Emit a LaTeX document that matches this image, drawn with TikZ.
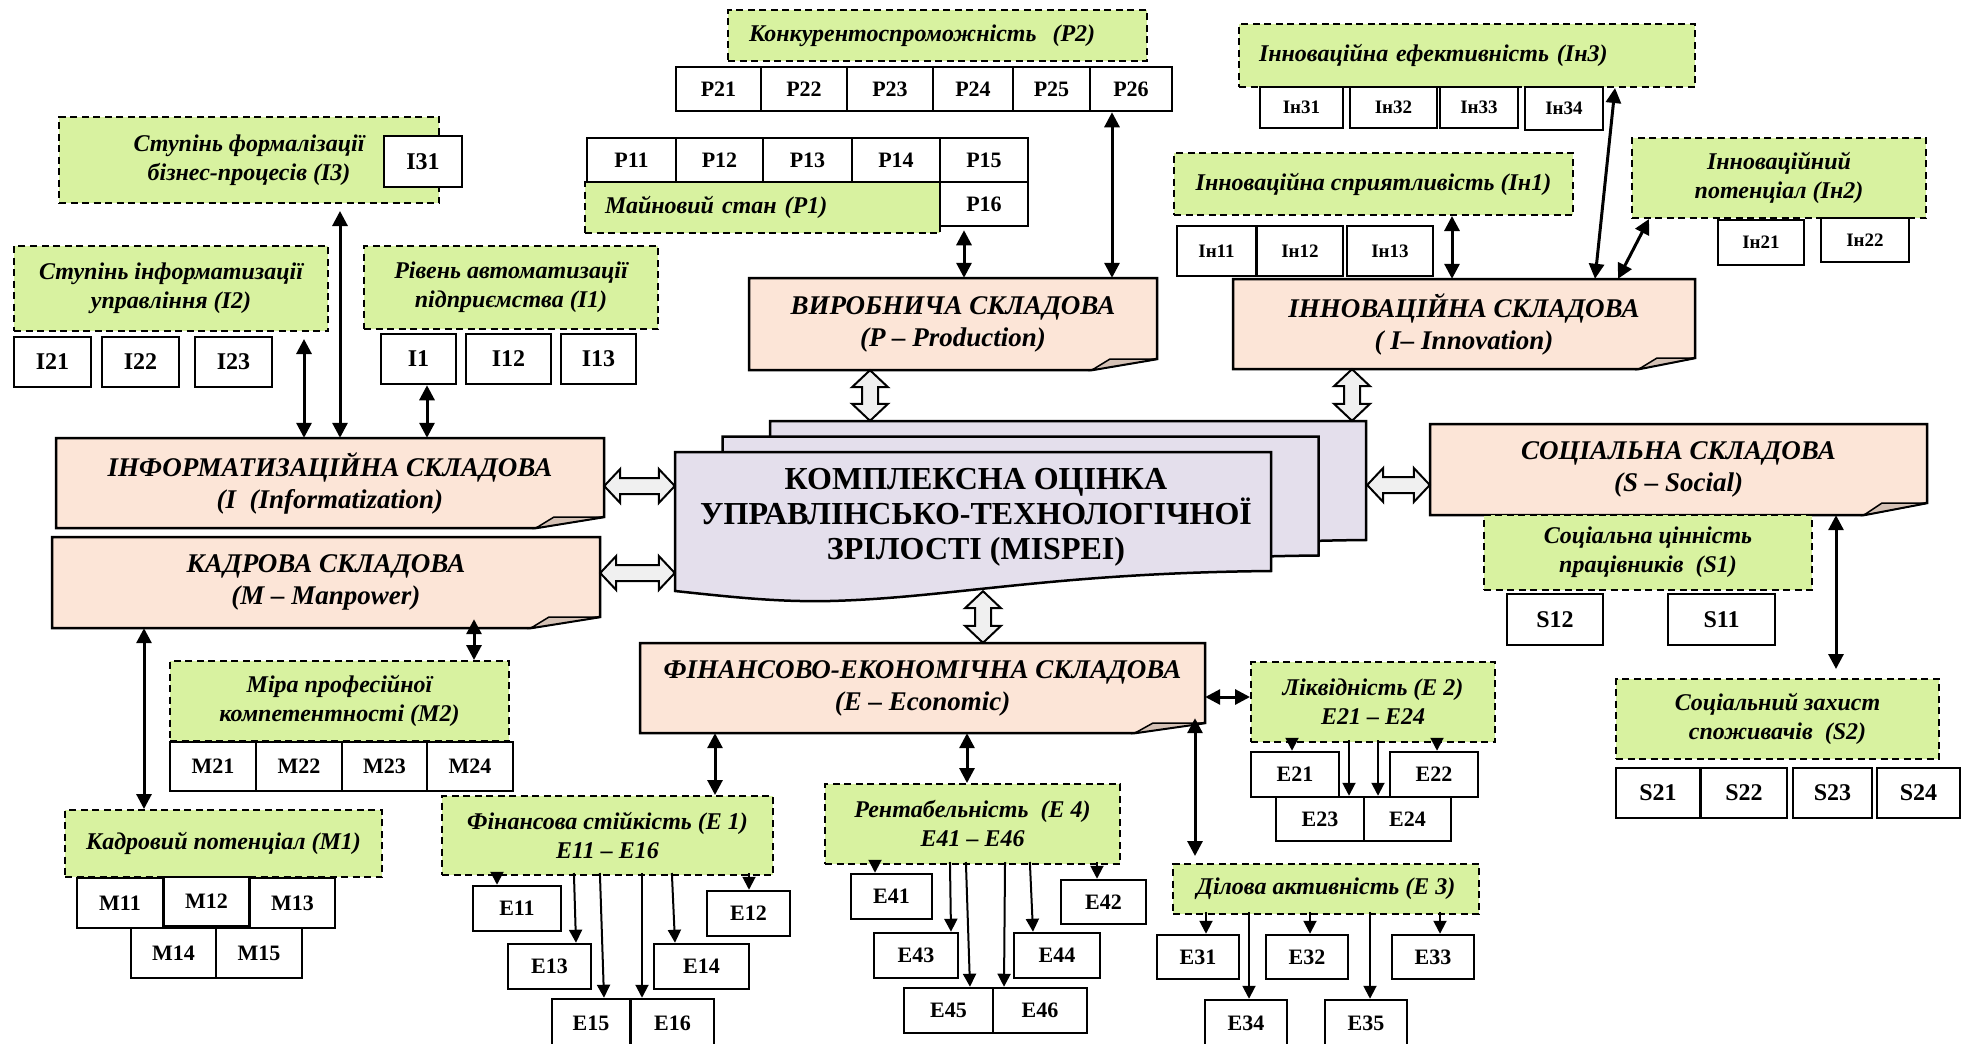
\documentclass[tikz,border=0pt]{standalone}
\usepackage{fontspec}
\setmainfont{Liberation Serif}
\usetikzlibrary{arrows.meta,calc}

\definecolor{pinkfill}{HTML}{FCE5D7}
\definecolor{flapfill}{HTML}{D4C1B5}
\definecolor{greenfill}{HTML}{D8F2A0}
\definecolor{sheetfill}{HTML}{E4DFEC}
\definecolor{hollowfill}{HTML}{F0F0F0}

\newcommand\greenfont{\fontsize{24}{29}\selectfont\bfseries\itshape}
\newcommand\pinkfont{\fontsize{27}{32}\selectfont\bfseries\itshape}
\newcommand\cellfont{\fontsize{22}{24}\selectfont\bfseries}
\newcommand\smallcellfont{\fontsize{19}{22}\selectfont\bfseries}
\newcommand\bigcellfont{\fontsize{24}{26}\selectfont\bfseries}
\newcommand\corefont{\fontsize{32}{35}\selectfont\bfseries}

\tikzset{
  greenbox/.style={draw, line width=2pt, dash pattern=on 7pt off 4.5pt, fill=greenfill,
    inner sep=0pt, align=center, font=\greenfont},
  whitebox/.style={draw, line width=2.5pt, fill=white, inner sep=0pt, font=\cellfont},
  pinkshape/.style={draw, line width=2.5pt, fill=pinkfill},
  flapshape/.style={draw, line width=1.5pt, fill=flapfill},
  pinktext/.style={inner sep=0pt, align=center, font=\pinkfont},
  sheet/.style={draw, line width=2.5pt, fill=sheetfill},
  hollow/.style={draw, line width=2pt, fill=hollowfill, line join=miter},
  dbl/.style={line width=3pt, {Triangle[length=15pt,width=15pt]}-{Triangle[length=15pt,width=15pt]}},
  one/.style={line width=2pt, -{Triangle[length=13pt,width=13pt]}},
}

% green dashed indicator group: [options]{name}{x1}{y1}{x2}{y2}{text}
\newcommand\gbox[7][]{\node[greenbox, minimum width={(#5-#3)*1pt}, minimum height={(#6-#4)*1pt}, #1]
  (#2) at ({(#3+#5)/2},{(#4+#6)/2}) {#7};}
% white indicator cell
\newcommand\wbox[7][]{\node[whitebox, minimum width={(#5-#3)*1pt}, minimum height={(#6-#4)*1pt}, #1]
  (#2) at ({(#3+#5)/2},{(#4+#6)/2}) {#7};}
% component box with a turned-up lower right corner
\newcommand\pinkbox[8]{%
  \path[pinkshape] (#2,#3) -- (#4,#3) -- (#4,#5-#7) -- (#4-#6,#5) -- (#2,#5) -- cycle;
  \path[flapshape] (#4-#6,#5) -- (#4-#6+18,#5-#7) -- (#4,#5-#7) -- cycle;
  \node[pinktext, minimum width={(#4-#2)*1pt}, minimum height={(#5-#3)*1pt}]
    (#1) at ({(#2+#4)/2},{(#3+#5)/2}) {#8};}
% one sheet of the central document stack, shifted right/up
\newcommand\sheetpath[2]{%
  \path[sheet] (675+#1,452-#2) -- (1271+#1,452-#2) -- (1271+#1,571-#2)
    .. controls (1050+#1,573-#2) and (950+#1,598-#2) .. (830+#1,601-#2)
    .. controls (780+#1,602-#2) and (740+#1,598-#2) .. (675+#1,591-#2) -- cycle;}
% hollow two-way arrows
\newcommand\hollowV[2]{%
  \path[hollow] let \p1=#1, \p2=#2 in
    (\x1,\y1) -- (\x1+18pt,\y1-17pt) -- (\x1+8pt,\y1-17pt) -- (\x1+8pt,\y2+17pt)
    -- (\x1+18pt,\y2+17pt) -- (\x1,\y2) -- (\x1-18pt,\y2+17pt) -- (\x1-8pt,\y2+17pt)
    -- (\x1-8pt,\y1-17pt) -- (\x1-18pt,\y1-17pt) -- cycle;}
\newcommand\hollowH[2]{%
  \path[hollow] let \p1=#1, \p2=#2 in
    (\x1,\y1) -- (\x1+16pt,\y1+17pt) -- (\x1+16pt,\y1+8pt) -- (\x2-16pt,\y1+8pt)
    -- (\x2-16pt,\y1+17pt) -- (\x2,\y1) -- (\x2-16pt,\y1-17pt) -- (\x2-16pt,\y1-8pt)
    -- (\x1+16pt,\y1-8pt) -- (\x1+16pt,\y1-17pt) -- cycle;}

\begin{document}
\begin{tikzpicture}[x=1pt,y=-1pt]
\useasboundingbox (0,0) rectangle (1971,1044);

% ---------- central document stack ----------
\sheetpath{95}{31}
\sheetpath{47.5}{15.5}
\sheetpath{0}{0}
\node[inner sep=0pt, minimum width=596pt, minimum height=139pt] (front) at (973,521.5) {};
\node[inner sep=0pt, minimum width=597pt, minimum height=121pt] (back) at (1068.5,481.5) {};
\node[font=\corefont, align=center, inner sep=0pt] (core) at (976,517)
  {КОМПЛЕКСНА ОЦІНКА\\УПРАВЛІНСЬКО-ТЕХНОЛОГІЧНОЇ\\ЗРІЛОСТІ (MISPEI)};

% ---------- components ----------
\pinkbox{inf}{56}{438}{604}{528}{68}{11}{ІНФОРМАТИЗАЦІЙНА СКЛАДОВА\\(I~ (Informatization)}
\pinkbox{kadr}{52}{537}{600}{628}{69}{11}{КАДРОВА СКЛАДОВА\\(M – Manpower)}
\pinkbox{prod}{749}{278}{1157}{370}{65}{11}{ВИРОБНИЧА СКЛАДОВА\\(P – Production)}
\pinkbox{innov}{1233}{279}{1695}{369}{56}{11}{ІННОВАЦІЙНА СКЛАДОВА\\( I– Innovation)}
\pinkbox{soc}{1430}{424}{1927}{515}{63}{12}{СОЦІАЛЬНА СКЛАДОВА\\(S – Social)}
\pinkbox{fin}{640}{643}{1205}{733}{70}{10}{ФІНАНСОВО-ЕКОНОМІЧНА СКЛАДОВА\\(E – Economic)}

% ---------- informatization ----------
\gbox{nI3}{59}{117}{439}{203}{Ступінь формалізації\\бізнес-процесів (І3)}
\wbox[font=\bigcellfont]{nI31}{384}{136}{462}{187}{І31}
\gbox{nI2}{14}{246}{328}{331}{Ступінь інформатизації\\управління (І2)}
\wbox[font=\bigcellfont]{nI21}{14}{337}{91}{387}{І21}
\wbox[font=\bigcellfont]{nI22}{102}{337}{179}{387}{І22}
\wbox[font=\bigcellfont]{nI23}{195}{337}{272}{387}{І23}
\gbox{nI1}{364}{246}{658}{329}{Рівень автоматизації\\підприємства (І1)}
\wbox[font=\bigcellfont]{nI1b}{381}{334}{456}{384}{І1}
\wbox[font=\bigcellfont]{nI12}{466}{334}{551}{384}{І12}
\wbox[font=\bigcellfont]{nI13}{561}{334}{636}{384}{І13}

% ---------- production ----------
\gbox[align=left, text width=377pt]{nP2}{728}{10}{1147}{61}{Конкурентоспроможність~ (P2)}
\wbox{nP21}{676}{67}{761}{111}{P21}
\wbox{nP22}{761}{67}{847}{111}{P22}
\wbox{nP23}{847}{67}{933}{111}{P23}
\wbox{nP24}{933}{67}{1013}{111}{P24}
\wbox{nP25}{1013}{67}{1090}{111}{P25}
\wbox{nP26}{1090}{67}{1172}{111}{P26}
\gbox[align=left, text width=315pt]{nP1}{585}{182}{940}{233}{Майновий стан (P1)}
\wbox{nP11}{587}{138}{676}{182}{P11}
\wbox{nP12}{676}{138}{763}{182}{P12}
\wbox{nP13}{763}{138}{852}{182}{P13}
\wbox{nP14}{852}{138}{940}{182}{P14}
\wbox{nP15}{940}{138}{1028}{182}{P15}
\wbox{nP16}{940}{182}{1028}{226}{P16}

% ---------- innovation ----------
\gbox[align=left, text width=416pt]{nIn3}{1239}{24}{1695}{87}{Інноваційна ефективність (Ін3)}
\wbox[font=\smallcellfont]{nIn31}{1260}{87}{1343}{128}{Ін31}
\wbox[font=\smallcellfont]{nIn32}{1350}{87}{1437}{128}{Ін32}
\wbox[font=\smallcellfont]{nIn33}{1440}{87}{1518}{128}{Ін33}
\wbox[font=\smallcellfont]{nIn34}{1525}{87}{1603}{130}{Ін34}
\gbox{nIn1}{1174}{153}{1573}{215}{Інноваційна сприятливість (Ін1)}
\wbox[font=\smallcellfont]{nIn11}{1177}{226}{1256}{276}{Ін11}
\wbox[font=\smallcellfont]{nIn12}{1257}{226}{1343}{276}{Ін12}
\wbox[font=\smallcellfont]{nIn13}{1347}{226}{1433}{276}{Ін13}
\gbox{nIn2}{1632}{138}{1926}{218}{Інноваційний\\потенціал (Ін2)}
\wbox[font=\smallcellfont]{nIn21}{1718}{220}{1804}{265}{Ін21}
\wbox[font=\smallcellfont]{nIn22}{1821}{218}{1909}{262}{Ін22}

% ---------- social ----------
\gbox{nS1}{1484}{515}{1812}{590}{Соціальна цінність\\працівників~ (S1)}
\wbox[font=\bigcellfont]{nS12}{1507}{594}{1603}{645}{S12}
\wbox[font=\bigcellfont]{nS11}{1668}{594}{1775}{645}{S11}
\gbox{nS2}{1616}{679}{1939}{759}{Соціальний захист\\споживачів~ (S2)}
\wbox[font=\bigcellfont]{nS21}{1616}{768}{1700}{818}{S21}
\wbox[font=\bigcellfont]{nS22}{1701}{768}{1787}{818}{S22}
\wbox[font=\bigcellfont]{nS23}{1793}{768}{1872}{818}{S23}
\wbox[font=\bigcellfont]{nS24}{1877}{768}{1960}{818}{S24}

% ---------- manpower ----------
\gbox{nM2}{170}{661}{509}{741}{Міра професійної\\компетентності (М2)}
\wbox{nM21}{170}{742}{256}{791}{M21}
\wbox{nM22}{256}{742}{342}{791}{M22}
\wbox{nM23}{342}{742}{427}{791}{M23}
\wbox{nM24}{427}{742}{513}{791}{M24}
\gbox{nM1}{65}{810}{382}{877}{Кадровий потенціал (М1)}
\wbox{nM11}{77}{878}{163}{928}{M11}
\wbox{nM12}{164}{877}{249}{926}{M12}
\wbox{nM13}{250}{878}{335}{928}{M13}
\wbox{nM14}{131}{928}{216}{978}{M14}
\wbox{nM15}{216}{928}{302}{978}{M15}

% ---------- financial-economic ----------
\gbox{nE1}{442}{796}{773}{875}{Фінансова стійкість (Е 1)\\Е11 – Е16}
\wbox{nE11}{473}{886}{561}{931}{E11}
\wbox{nE12}{707}{891}{790}{936}{E12}
\wbox{nE13}{508}{944}{591}{989}{E13}
\wbox{nE14}{654}{944}{749}{989}{E14}
\wbox{nE15}{552}{999}{630}{1047}{E15}
\wbox{nE16}{631}{999}{714}{1047}{E16}

\gbox{nE4}{825}{784}{1120}{864}{Рентабельність~ (Е 4)\\Е41 – Е46}
\wbox{nE41}{851}{874}{932}{919}{E41}
\wbox{nE42}{1061}{880}{1146}{924}{E42}
\wbox{nE43}{874}{933}{958}{978}{E43}
\wbox{nE44}{1014}{933}{1100}{978}{E44}
\wbox{nE45}{904}{988}{993}{1033}{E45}
\wbox{nE46}{993}{988}{1087}{1033}{E46}

\gbox{nE2}{1251}{662}{1495}{742}{Ліквідність (Е 2)\\Е21 – Е24}
\wbox{nE21}{1251}{752}{1339}{797}{E21}
\wbox{nE22}{1390}{752}{1478}{797}{E22}
\wbox{nE23}{1276}{797}{1364}{841}{E23}
\wbox{nE24}{1364}{797}{1451}{841}{E24}

\gbox{nE3}{1173}{864}{1479}{914}{Ділова активність (Е 3)}
\wbox{nE31}{1157}{935}{1239}{979}{E31}
\wbox{nE32}{1266}{935}{1348}{979}{E32}
\wbox{nE33}{1392}{935}{1474}{979}{E33}
\wbox{nE34}{1205}{1000}{1287}{1047}{E34}
\wbox{nE35}{1325}{1000}{1407}{1047}{E35}

% ---------- hollow links to the central assessment ----------
\hollowH{(inf.east |- 0,486)}{(front.west |- 0,486)}
\hollowH{(kadr.east |- 0,573)}{(front.west |- 0,573)}
\hollowV{(prod.south -| 870,0)}{(back.north -| 870,0)}
\hollowV{(innov.south -| 1352,0)}{(back.north -| 1352,0)}
\hollowH{(back.east |- 0,485)}{(soc.west |- 0,485)}
\hollowV{(front.south -| 983,0)}{(fin.north -| 983,0)}

% ---------- two-way links between components and groups ----------
\draw[dbl, shorten <=7pt] (nI2.south -| 304,0) -- (inf.north -| 304,0);
\draw[dbl, shorten <=7pt] (nI3.south -| 340,0) -- (inf.north -| 340,0);
\draw[dbl] (nI1b.south -| 427,0) -- (inf.north -| 427,0);
\draw[dbl, shorten <=3pt] (nP16.south -| 964,0) -- (prod.north -| 964,0);
\draw[dbl] (nP26.south -| 1112,0) -- (prod.north -| 1112,0);
\draw[dbl] (nIn1.south -| 1452,0) -- (innov.north -| 1452,0);
\draw[dbl] (nIn3.south -| 1615,0) -- (innov.north -| 1595,0);
\draw[dbl] (nIn2.south -| 1649,0) -- (innov.north -| 1618,0);
\draw[dbl, shorten >=9pt] (soc.south -| 1836,0) -- (nS2.north -| 1836,0);
\draw[dbl, shorten <=-9pt] (kadr.south -| 474,0) -- (nM2.north -| 474,0);
\draw[dbl] (kadr.south -| 144,0) -- (nM1.north -| 144,0);
\draw[dbl] (fin.south -| 715,0) -- (nE1.north -| 715,0);
\draw[dbl] (fin.south -| 967,0) -- (nE4.north -| 967,0);
\draw[dbl] (fin.east |- 0,697) -- (nE2.west |- 0,697);
\draw[dbl, shorten <=-15pt, shorten >=7pt] (fin.south -| 1195,0) -- (nE3.north -| 1195,0);

% ---------- one-way links to indicators ----------
\begin{scope}[one, shorten <=-3pt]
\draw (nE1.south -| 497,0) -- (nE11.north -| 497,0);
\draw (nE1.south -| 749,0) -- (nE12.north -| 749,0);
\draw (nE1.south -| 574,0) -- (nE13.north -| 576,0);
\draw (nE1.south -| 672,0) -- (nE14.north -| 675,0);
\draw (nE1.south -| 600,0) -- (nE15.north -| 604,0);
\draw (nE1.south -| 642,0) -- (nE16.north -| 642,0);
\draw (nE4.south -| 875,0) -- (nE41.north -| 875,0);
\draw (nE4.south -| 1097,0) -- (nE42.north -| 1097,0);
\draw (nE4.south -| 950,0) -- (nE43.north -| 951,0);
\draw (nE4.south -| 1030,0) -- (nE44.north -| 1033,0);
\draw (nE4.south -| 966,0) -- (nE45.north -| 970,0);
\draw (nE4.south -| 1005,0) -- (nE46.north -| 1004,0);
\draw (nE2.south -| 1292,0) -- (nE21.north -| 1292,0);
\draw (nE2.south -| 1437,0) -- (nE22.north -| 1437,0);
\draw (nE2.south -| 1349,0) -- (nE23.north -| 1349,0);
\draw (nE2.south -| 1378,0) -- (nE24.north -| 1378,0);
\draw (nE3.south -| 1206,0) -- (nE31.north -| 1206,0);
\draw (nE3.south -| 1310,0) -- (nE32.north -| 1310,0);
\draw (nE3.south -| 1440,0) -- (nE33.north -| 1440,0);
\draw (nE3.south -| 1249,0) -- (nE34.north -| 1249,0);
\draw (nE3.south -| 1370,0) -- (nE35.north -| 1370,0);
\end{scope}
\end{tikzpicture}
\end{document}
